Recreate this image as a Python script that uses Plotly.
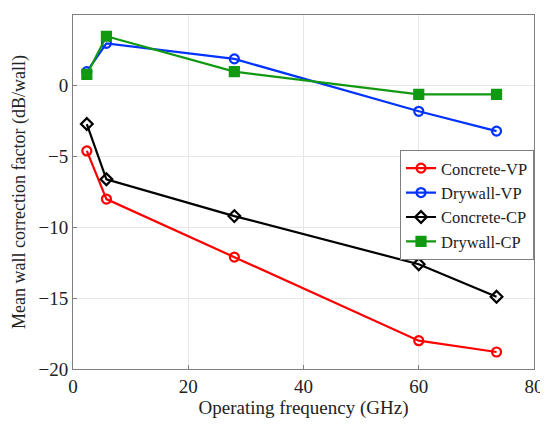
import plotly.graph_objects as go

freq = [2.4, 5.8, 28, 60, 73.5]
concrete_vp = [-4.6, -8.0, -12.1, -18.0, -18.8]
drywall_vp = [1.0, 3.0, 1.9, -1.8, -3.2]
concrete_cp = [-2.7, -6.6, -9.2, -12.6, -14.9]
drywall_cp = [0.8, 3.5, 1.0, -0.6, -0.6]

series = [
    ("Concrete-VP", concrete_vp, "#ff0000", "circle-open"),
    ("Drywall-VP", drywall_vp, "#0033ff", "circle-open"),
    ("Concrete-CP", concrete_cp, "#000000", "diamond-open"),
    ("Drywall-CP", drywall_cp, "#119911", "square"),
]

fig = go.Figure()
for name, ys, color, sym in series:
    fig.add_trace(go.Scatter(
        x=freq, y=ys, name=name, mode="lines+markers",
        line=dict(color=color, width=2.2),
        marker=dict(symbol=sym, size=9, color=color, line=dict(width=2.2, color=color)),
    ))

font = "Liberation Serif, Times New Roman, serif"
axis_common = dict(
    showgrid=True, gridcolor="#e6e6e6", gridwidth=1,
    showline=True, linecolor="#7f7f7f", linewidth=1, mirror=True,
    ticks="inside", ticklen=4, tickcolor="#7f7f7f",
    zeroline=False, automargin=False,
    tickfont=dict(family=font, size=19, color="#222"),
)
# page has an 8px body margin; figure sized to fit the 548x425 window
fig.update_layout(
    width=540, height=417,
    margin=dict(l=65, r=14, t=7, b=56),
    paper_bgcolor="white", plot_bgcolor="white",
    font=dict(family=font, color="#222"),
    xaxis=dict(range=[0, 80], dtick=20,
               title=dict(text="Operating frequency (GHz)", font=dict(family=font, size=19), standoff=2),
               **axis_common),
    yaxis=dict(range=[-20, 5], dtick=5,
               title=dict(text="Mean wall correction factor (dB/wall)", font=dict(family=font, size=18), standoff=8),
               **axis_common),
    legend=dict(x=1.0, y=0.619, xanchor="right", yanchor="top",
                bgcolor="white", bordercolor="#7f7f7f", borderwidth=1,
                font=dict(family=font, size=16.5, color="#222"),
                tracegroupgap=0, itemwidth=30),
    showlegend=True,
)
fig.write_html("out.html")
